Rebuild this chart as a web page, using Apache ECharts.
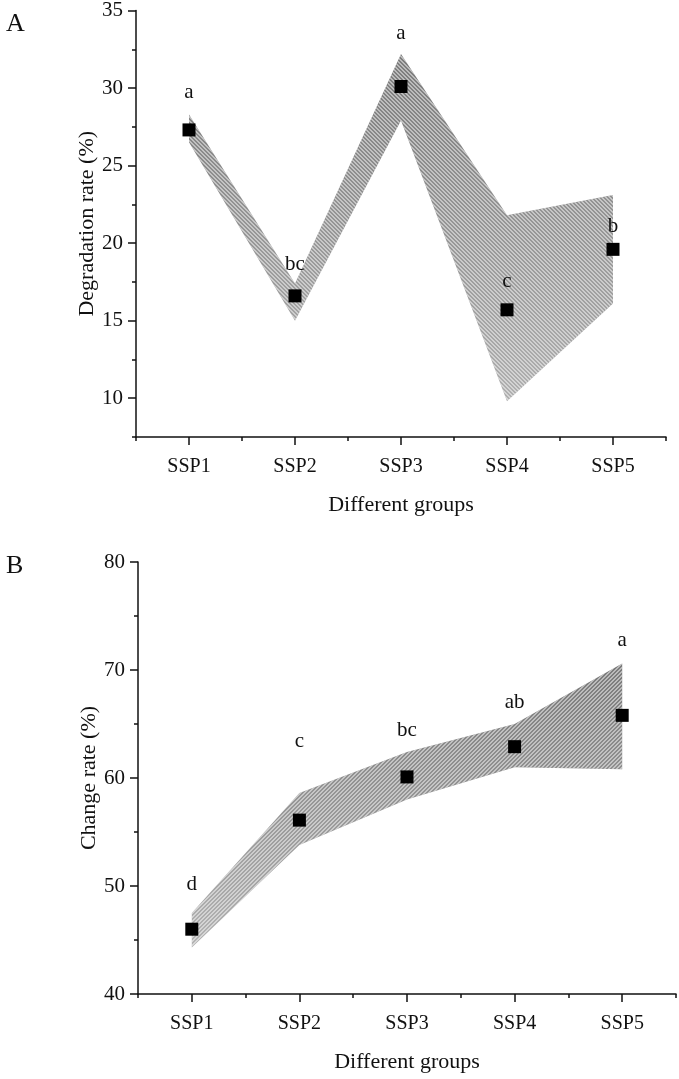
<!DOCTYPE html>
<html><head><meta charset="utf-8">
<script src="https://cdn.jsdelivr.net/npm/echarts@6/dist/echarts.min.js"></script>
<style>html,body{margin:0;padding:0;background:#fff}#c{width:679px;height:1079px}</style>
</head><body><div id="c"></div>
<script>
const groups = ['SSP1', 'SSP2', 'SSP3', 'SSP4', 'SSP5'];
const degMean = [27.3, 16.6, 30.1, 15.7, 19.6];
const degUpper = [28.3, 17.4, 32.2, 21.8, 23.1];
const degLower = [26.5, 15.0, 27.9, 9.8, 16.1];
const degLetters = ['a', 'bc', 'a', 'c', 'b'];
const degLetterY = [29.7, 18.6, 33.5, 17.5, 21.1];
const chgMean = [46.0, 56.1, 60.1, 62.9, 65.8];
const chgUpper = [47.5, 58.6, 62.4, 65.0, 70.6];
const chgLower = [44.3, 53.8, 58.0, 61.0, 60.8];
const chgLetters = ['d', 'c', 'bc', 'ab', 'a'];
const chgLetterY = [50.1, 63.4, 64.4, 67.0, 72.7];
const degTicks = [10, 15, 20, 25, 30, 35];
const degMinor = [7.5, 12.5, 17.5, 22.5, 27.5, 32.5];
const chgTicks = [40, 50, 60, 70, 80];
const chgMinor = [45, 55, 65, 75];
const xTicks = [1, 2, 3, 4, 5];
const xMinor = [0.5, 1.5, 2.5, 3.5, 4.5, 5.5];

const FONT = '"Liberation Serif", "DejaVu Serif", serif';
const INK = '#111111';

function makePattern(dir) {
  const c = document.createElement('canvas');
  c.width = 4; c.height = 4;
  const ctx = c.getContext('2d');
  const img = ctx.createImageData(4, 4);
  for (let y = 0; y < 4; y++) for (let x = 0; x < 4; x++) {
    const k = dir === '/' ? (x + y) % 4 : ((x - y) % 4 + 4) % 4;
    const i = (y * 4 + x) * 4;
    img.data[i] = 255; img.data[i + 1] = 255; img.data[i + 2] = 255;
    img.data[i + 3] = (k === 0 || k === 1) ? 120 : 0;
  }
  ctx.putImageData(img, 0, 0);
  return c;
}
const patTop = makePattern('\\');
const patBot = makePattern('/');

function bandSeries(xi, lower, upper, pat, c1, c2) {
  return {
    type: 'custom', xAxisIndex: xi, yAxisIndex: xi, silent: true, z: 1,
    data: lower.map((v, i) => [i + 1, v, upper[i]]),
    encode: { x: 0, y: [1, 2] },
    renderItem: function (params, api) {
      if (params.dataIndex !== 0) return null;
      const pts = [];
      for (let i = 0; i < upper.length; i++) pts.push(api.coord([i + 1, upper[i]]));
      for (let i = lower.length - 1; i >= 0; i--) pts.push(api.coord([i + 1, lower[i]]));
      return {
        type: 'group', children: [
          { type: 'polygon', shape: { points: pts }, style: { fill: { type: 'linear', x: 0, y: 0, x2: 0, y2: 1, colorStops: [{ offset: 0, color: c1 }, { offset: 1, color: c2 }] } } },
          { type: 'polygon', shape: { points: pts }, style: { fill: { type: 'pattern', image: pat, repeat: 'repeat' } } }
        ]
      };
    }
  };
}

function xAxes(gi, name) {
  return [{
    type: 'value', gridIndex: gi, min: 0.5, max: 5.5, position: 'bottom',
    name: name, nameLocation: 'middle', nameGap: 57, nameMoveOverlap: false,
    nameTextStyle: { fontFamily: FONT, fontSize: 22, color: INK },
    axisLine: { show: true, lineStyle: { color: INK, width: 1.5 } },
    axisTick: { show: true, length: 8, lineStyle: { color: INK, width: 1.5 }, customValues: xTicks },
    axisLabel: { customValues: xTicks, margin: 20, fontFamily: FONT, fontSize: 20, color: INK, formatter: v => groups[Math.round(v) - 1] || '' },
    splitLine: { show: false }
  }, {
    type: 'value', gridIndex: gi, min: 0.5, max: 5.5, position: 'bottom',
    axisLine: { show: false },
    axisTick: { show: true, length: 4, lineStyle: { color: INK, width: 1.5 }, customValues: xMinor },
    axisLabel: { show: false }, splitLine: { show: false }
  }];
}
function yAxes(gi, name, min, max, ticks, minor) {
  return [{
    type: 'value', gridIndex: gi, min: min, max: max, position: 'left',
    name: name, nameLocation: 'middle', nameGap: 38, nameMoveOverlap: false,
    nameTextStyle: { fontFamily: FONT, fontSize: 22, color: INK },
    axisLine: { show: true, lineStyle: { color: INK, width: 1.5 } },
    axisTick: { show: true, length: 8, lineStyle: { color: INK, width: 1.5 }, customValues: ticks },
    axisLabel: { customValues: ticks, margin: 13, fontFamily: FONT, fontSize: 21, color: INK },
    splitLine: { show: false }
  }, {
    type: 'value', gridIndex: gi, min: min, max: max, position: 'left',
    axisLine: { show: false },
    axisTick: { show: true, length: 4, lineStyle: { color: INK, width: 1.5 }, customValues: minor },
    axisLabel: { show: false }, splitLine: { show: false }
  }];
}

function meanSeries(xi, mean) {
  return { type: 'scatter', xAxisIndex: xi, yAxisIndex: xi, z: 3, symbol: 'rect', symbolSize: 13,
    itemStyle: { color: '#000000', opacity: 1 }, data: mean.map((v, i) => [i + 1, v]) };
}
function letterSeries(xi, ys, letters) {
  return { type: 'scatter', xAxisIndex: xi, yAxisIndex: xi, z: 4, symbolSize: 1,
    itemStyle: { color: 'rgba(0,0,0,0)', opacity: 1 },
    label: { show: true, position: 'inside', opacity: 1, fontFamily: FONT, fontSize: 21, color: INK, textBorderWidth: 0, formatter: p => letters[p.dataIndex] },
    data: ys.map((v, i) => [i + 1, v]) };
}

const ax0 = xAxes(0, 'Different groups'), ax1 = xAxes(1, 'Different groups');
const ay0 = yAxes(0, 'Degradation rate (%)', 7.5, 35, degTicks, degMinor);
const ay1 = yAxes(1, 'Change rate (%)', 40, 80, chgTicks, chgMinor);

const option = {
  backgroundColor: '#fff',
  animation: false,
  title: [
    { text: 'A', left: 1, top: 6, textStyle: { fontFamily: FONT, fontSize: 26, fontWeight: 'normal', color: INK } },
    { text: 'B', left: 1, top: 548, textStyle: { fontFamily: FONT, fontSize: 26, fontWeight: 'normal', color: INK } }
  ],
  grid: [
    { left: 136, top: 10, width: 530, height: 427 },
    { left: 138, top: 562, width: 538, height: 432 }
  ],
  xAxis: [ax0[0], ax1[0], ax0[1], ax1[1]].map((a, i) => Object.assign(a, { gridIndex: i % 2 })),
  yAxis: [ay0[0], ay1[0], ay0[1], ay1[1]].map((a, i) => Object.assign(a, { gridIndex: i % 2 })),
  series: [
    bandSeries(0, degLower, degUpper, patTop, '#7c7c7c', '#b0b0b0'),
    meanSeries(0, degMean),
    letterSeries(0, degLetterY, degLetters),
    bandSeries(1, chgLower, chgUpper, patBot, '#7a7a7a', '#b4b4b4'),
    meanSeries(1, chgMean),
    letterSeries(1, chgLetterY, chgLetters)
  ]
};
const chart = echarts.init(document.getElementById('c'), null, { renderer: 'canvas' });
chart.setOption(option);
</script>
</body></html>
